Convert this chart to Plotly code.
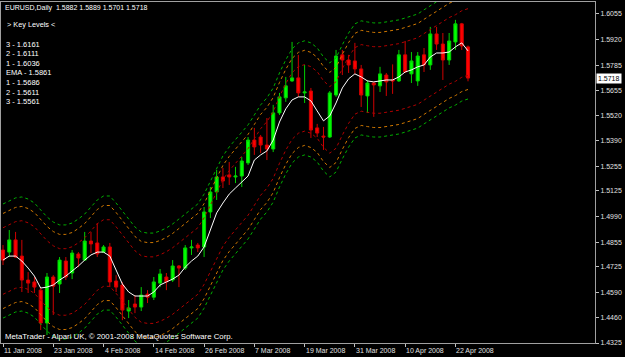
import plotly.graph_objects as go

# ---------------- data ----------------
bars = list(range(75))

opens = [
    1.4814, 1.4803, 1.4867, 1.4782, 1.4656, 1.4646, 1.4603, 1.4430, 1.4672, 1.4635,
    1.4756, 1.4693, 1.4793, 1.4761, 1.4861, 1.4851, 1.4803, 1.4830, 1.4651, 1.4630,
    1.4493, 1.4530, 1.4514, 1.4582, 1.4566, 1.4640, 1.4672, 1.4656, 1.4730, 1.4719,
    1.4825, 1.4840, 1.4830, 1.5014, 1.5119, 1.5198, 1.5209, 1.5198, 1.5203, 1.5272,
    1.5392, 1.5408, 1.5366, 1.5345, 1.5535, 1.5614, 1.5703, 1.5719, 1.5640, 1.5650,
    1.5456, 1.5413, 1.5408, 1.5629, 1.5840, 1.5813, 1.5808, 1.5766, 1.5624, 1.5692,
    1.5677, 1.5734, 1.5708, 1.5703, 1.5840, 1.5740, 1.5703, 1.5840, 1.5787, 1.5950,
    1.5897, 1.5813, 1.5908, 1.6003, 1.5882,
]
highs = [
    1.4840, 1.4919, 1.4909, 1.4867, 1.4698, 1.4672, 1.4614, 1.4693, 1.4682, 1.4777,
    1.4777, 1.4814, 1.4803, 1.4909, 1.4909, 1.4956, 1.4840, 1.4851, 1.4682, 1.4646,
    1.4551, 1.4577, 1.4619, 1.4603, 1.4672, 1.4714, 1.4693, 1.4761, 1.4735, 1.4840,
    1.4867, 1.4851, 1.5040, 1.5145, 1.5235, 1.5245, 1.5277, 1.5251, 1.5303, 1.5408,
    1.5456, 1.5419, 1.5508, 1.5577, 1.5640, 1.5724, 1.5908, 1.5840, 1.5787, 1.5666,
    1.5477, 1.5461, 1.5650, 1.5866, 1.5866, 1.5840, 1.5903, 1.5787, 1.5708, 1.5698,
    1.5777, 1.5745, 1.5790, 1.5866, 1.5913, 1.5855, 1.5855, 1.5876, 1.5987, 1.5987,
    1.5955, 1.5955, 1.6024, 1.6008, 1.5889,
]
lows = [
    1.4735, 1.4777, 1.4772, 1.4593, 1.4588, 1.4588, 1.4393, 1.4367, 1.4472, 1.4588,
    1.4656, 1.4661, 1.4724, 1.4756, 1.4798, 1.4777, 1.4798, 1.4619, 1.4593, 1.4445,
    1.4456, 1.4482, 1.4493, 1.4535, 1.4551, 1.4619, 1.4603, 1.4646, 1.4619, 1.4709,
    1.4788, 1.4803, 1.4777, 1.4982, 1.5077, 1.5140, 1.5156, 1.5166, 1.5145, 1.5261,
    1.5314, 1.5324, 1.5287, 1.5329, 1.5524, 1.5593, 1.5698, 1.5619, 1.5587, 1.5403,
    1.5408, 1.5340, 1.5403, 1.5619, 1.5734, 1.5745, 1.5740, 1.5566, 1.5535, 1.5514,
    1.5645, 1.5624, 1.5635, 1.5698, 1.5745, 1.5692, 1.5677, 1.5750, 1.5761, 1.5866,
    1.5708, 1.5787, 1.5866, 1.5866, 1.5701,
]
closes = [
    1.4761, 1.4867, 1.4777, 1.4656, 1.4640, 1.4619, 1.4430, 1.4672, 1.4624, 1.4761,
    1.4672, 1.4798, 1.4772, 1.4861, 1.4846, 1.4793, 1.4830, 1.4646, 1.4619, 1.4498,
    1.4509, 1.4514, 1.4577, 1.4566, 1.4646, 1.4688, 1.4646, 1.4730, 1.4719, 1.4825,
    1.4830, 1.4825, 1.5014, 1.5119, 1.5198, 1.5177, 1.5198, 1.5203, 1.5282, 1.5392,
    1.5356, 1.5366, 1.5345, 1.5535, 1.5619, 1.5677, 1.5719, 1.5640, 1.5645, 1.5445,
    1.5429, 1.5408, 1.5640, 1.5834, 1.5813, 1.5787, 1.5766, 1.5629, 1.5692, 1.5682,
    1.5740, 1.5698, 1.5703, 1.5840, 1.5750, 1.5808, 1.5834, 1.5787, 1.5950, 1.5897,
    1.5813, 1.5913, 1.6003, 1.5887, 1.5718,
]
ema = [
    1.4761, 1.4782, 1.4782, 1.4756, 1.4719, 1.4677, 1.4614, 1.4619, 1.4630, 1.4656,
    1.4677, 1.4703, 1.4730, 1.4761, 1.4788, 1.4803, 1.4803, 1.4782, 1.4709, 1.4635,
    1.4593, 1.4572, 1.4572, 1.4572, 1.4593, 1.4630, 1.4646, 1.4661, 1.4682, 1.4724,
    1.4756, 1.4782, 1.4830, 1.4919, 1.5009, 1.5061, 1.5108, 1.5140, 1.5172, 1.5203,
    1.5287, 1.5314, 1.5335, 1.5392, 1.5487, 1.5556, 1.5603, 1.5619, 1.5619, 1.5598,
    1.5545, 1.5493, 1.5519, 1.5587, 1.5666, 1.5714, 1.5740, 1.5724, 1.5703, 1.5698,
    1.5703, 1.5708, 1.5708, 1.5724, 1.5750, 1.5761, 1.5777, 1.5787, 1.5829, 1.5850,
    1.5850, 1.5855, 1.5882, 1.5903, 1.5861,
]
band_mid = [
    1.4756, 1.4772, 1.4788, 1.4793, 1.4782, 1.4761, 1.4724, 1.4688, 1.4661, 1.4646,
    1.4646, 1.4656, 1.4677, 1.4703, 1.4740, 1.4777, 1.4798, 1.4798, 1.4761, 1.4719,
    1.4672, 1.4635, 1.4609, 1.4603, 1.4603, 1.4614, 1.4630, 1.4651, 1.4677, 1.4703,
    1.4730, 1.4756, 1.4808, 1.4877, 1.4945, 1.5009, 1.5056, 1.5093, 1.5130, 1.5172,
    1.5224, 1.5277, 1.5314, 1.5366, 1.5445, 1.5514, 1.5571, 1.5603, 1.5614, 1.5603,
    1.5577, 1.5529, 1.5498, 1.5524, 1.5593, 1.5655, 1.5703, 1.5719, 1.5713, 1.5708,
    1.5708, 1.5713, 1.5719, 1.5724, 1.5734, 1.5745, 1.5755, 1.5777, 1.5798, 1.5819,
    1.5840, 1.5861, 1.5876, 1.5897, 1.5908,
]
band_offsets = [0.0175, 0.0250, 0.0300]
band_colors = ["#b00000", "#d07800", "#00b000"]

date_ticks = [0, 8, 16, 24, 32, 40, 48, 56, 64, 72]
date_labels = ["11 Jan 2008", "23 Jan 2008", "4 Feb 2008", "14 Feb 2008", "26 Feb 2008",
               "7 Mar 2008", "19 Mar 2008", "31 Mar 2008", "10 Apr 2008", "22 Apr 2008"]
price_ticks = [1.6055, 1.5920, 1.5785, 1.5655, 1.5520, 1.5390, 1.5255, 1.5125,
               1.4990, 1.4855, 1.4725, 1.4590, 1.4460, 1.4325]

header = "EURUSD,Daily  1.5882 1.5889 1.5701 1.5718"
key_title = " > Key Levels <"
key_levels = ["3 - 1.6161", "2 - 1.6111", "1 - 1.6036", "EMA - 1.5861",
              "1 - 1.5686", "2 - 1.5611", "3 - 1.5561"]
footer = "MetaTrader - Alpari UK, © 2001-2008 MetaQuotes Software Corp."
last_price = 1.5718

# ---------------- figure ----------------
W, H = 625, 357
ML, MR, MT, MB = 1, 30, 2, 14
FONT = "Liberation Sans, Arial, sans-serif"

def px2paper(px, py):
    return (px - ML) / (W - ML - MR), 1 - (py - MT) / (H - MT - MB)

fig = go.Figure()

for off, col in zip(band_offsets, band_colors):
    for sgn in (1, -1):
        fig.add_trace(go.Scatter(
            x=bars, y=[m + sgn * off for m in band_mid], mode="lines",
            line=dict(color=col, width=1, dash="3px,3px"),
            hoverinfo="skip", showlegend=False))

fig.add_trace(go.Candlestick(
    x=bars, open=opens, high=highs, low=lows, close=closes,
    increasing=dict(line=dict(color="#00d000", width=1), fillcolor="#00ff00"),
    decreasing=dict(line=dict(color="#d00000", width=1), fillcolor="#ff0000"),
    whiskerwidth=0, showlegend=False))

fig.add_trace(go.Scatter(x=bars, y=ema, mode="lines",
                         line=dict(color="#ffffff", width=1),
                         hoverinfo="skip", showlegend=False))

annotations = []
x0, y0 = px2paper(3, 8)
annotations.append(dict(text=header, x=x0, y=y0, xref="paper", yref="paper",
                        xanchor="left", yanchor="middle", showarrow=False,
                        font=dict(family=FONT, size=7, color="#ffffff")))
x0, y0 = px2paper(3, 25)
annotations.append(dict(text=key_title, x=x0, y=y0, xref="paper", yref="paper",
                        xanchor="left", yanchor="middle", showarrow=False,
                        font=dict(family=FONT, size=7.3, color="#ffffff")))
for k, t in enumerate(key_levels):
    x0, y0 = px2paper(4, 44 + k * 9.6)
    annotations.append(dict(text=t, x=x0, y=y0, xref="paper", yref="paper",
                            xanchor="left", yanchor="middle", showarrow=False,
                            font=dict(family=FONT, size=7.5, color="#ffffff")))
x0, y0 = px2paper(3, 336)
annotations.append(dict(text=footer, x=x0, y=y0, xref="paper", yref="paper",
                        xanchor="left", yanchor="middle", showarrow=False,
                        font=dict(family=FONT, size=7.8, color="#ffffff")))
for tv, tl in zip(date_ticks, date_labels):
    annotations.append(dict(text=tl, x=tv, y=0, xref="x", yref="paper",
                            xanchor="left", yanchor="top", yshift=-2, xshift=-1,
                            showarrow=False,
                            font=dict(family=FONT, size=7, color="#e0e0e0")))
annotations.append(dict(text=f"{last_price:.4f}", x=1, y=last_price, xref="paper", yref="y",
                        xanchor="left", yanchor="middle", xshift=1, showarrow=False,
                        bgcolor="#ffffff", borderpad=1,
                        font=dict(family=FONT, size=7, color="#000000")))

fig.update_layout(
    width=W, height=H, autosize=False,
    margin=dict(l=ML, r=MR, t=MT, b=MB, pad=0),
    paper_bgcolor="#000000", plot_bgcolor="#000000",
    showlegend=False, boxgap=0.3, hovermode=False,
    annotations=annotations,
    xaxis=dict(range=[-0.318, 94.21], tickvals=date_ticks, ticktext=[""] * len(date_ticks),
               ticks="outside", ticklen=3, tickcolor="#c0c0c0",
               showgrid=False, zeroline=False, showline=True, mirror=True,
               linecolor="#a0a0a0", linewidth=1, rangeslider=dict(visible=False),
               fixedrange=True),
    yaxis=dict(range=[1.4325, 1.6118], side="right", tickvals=price_ticks,
               ticktext=[f"{v:.4f}" for v in price_ticks],
               ticks="outside", ticklen=3, tickcolor="#c0c0c0",
               tickfont=dict(family=FONT, size=7, color="#e0e0e0"),
               showgrid=False, zeroline=False, showline=True, mirror=True,
               linecolor="#a0a0a0", linewidth=1, fixedrange=True),
)

fig.write_html("out.html", config={"displayModeBar": False, "staticPlot": True})
